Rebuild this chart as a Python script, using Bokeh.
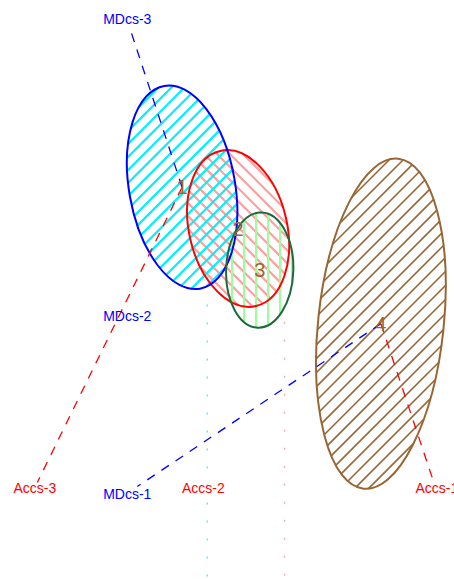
import numpy as np
from bokeh.plotting import figure
from bokeh.models import Range1d
from bokeh.embed import file_html
from bokeh.resources import INLINE
from bokeh.core.properties import value

# Group ellipses in canonical score space
groups = ["1", "2", "3", "4"]
center_x = [-0.96, 0.44, 0.98, 4.01]
center_y = [2.83, 1.80, 0.76, -0.58]
ell_width = [2.65, 2.45, 1.68, 3.14]
ell_height = [5.15, 3.98, 2.88, 8.30]
ell_angle_deg = [10, 13, -2, -6]

# Variable vectors: origin group, tip and label position
var_names = ["MDcs-3", "Accs-3", "MDcs-1", "Accs-1", "MDcs-2", "Accs-2"]
var_origin = [0, 0, 3, 3, None, None]
var_tip_x = [-2.23, -4.58, -2.08, 5.30, None, None]
var_tip_y = [6.70, -4.55, -4.65, -4.45, None, None]
var_label_x = [-2.33, -4.64, -2.33, 5.41, -2.33, -0.43]
var_label_y = [7.05, -4.68, -4.83, -4.68, -0.38, -4.68]

# Vertical dotted guides
guide_x = [-0.33, 1.60]
guide_top = [-0.10, -0.53]

X_RANGE = (-5.5, 5.85)
Y_RANGE = (-6.975, 7.5)

outline_colors = ["#0000FF", "#FF0000", "#1B6B3A", "#996633"]
hatch_colors = ["#00F0FF", "#FF9F9F", "#9CFF9C", "#996633"]
hatch_kinds = ["/", "\\", "|", "/"]
hatch_gap = [0.325, 0.325, 0.30, 0.35]     # offset between lines along x
hatch_phase = [-5.25, 0.0, 0.59, -5.25]
hatch_widths = [2.2, 2.2, 2.2, 1.6]
var_colors = {"MDcs": "#0000FF", "Accs": "#FF0000"}
guide_colors = ["#55EEF5", "#FFAAAA"]


def hatch_lines(i):
    """Hatch segments clipped to ellipse i."""
    cx, cy = center_x[i], center_y[i]
    a, b = ell_width[i] / 2, ell_height[i] / 2
    th = np.radians(ell_angle_deg[i])
    kind = hatch_kinds[i]
    if kind == "/":
        d = np.array([1.0, 1.0]) / np.sqrt(2)
        n = np.array([1.0, -1.0]) / np.sqrt(2)
    elif kind == "\\":
        d = np.array([1.0, -1.0]) / np.sqrt(2)
        n = np.array([1.0, 1.0]) / np.sqrt(2)
    else:
        d = np.array([0.0, 1.0])
        n = np.array([1.0, 0.0])
    scale = 1.0 if kind == "|" else np.sqrt(2)
    step = hatch_gap[i] / scale
    c0 = hatch_phase[i] / scale
    cc = n @ np.array([cx, cy])
    k0 = int(np.floor((cc - b - 1 - c0) / step))
    k1 = int(np.ceil((cc + b + 1 - c0) / step))
    rot = np.array([[np.cos(th), np.sin(th)], [-np.sin(th), np.cos(th)]])
    xs, ys = [], []
    for k in range(k0, k1 + 1):
        c = c0 + k * step
        p0 = rot @ (c * n - np.array([cx, cy]))
        pd = rot @ d
        A = (pd[0] / a) ** 2 + (pd[1] / b) ** 2
        B = 2 * (p0[0] * pd[0] / a ** 2 + p0[1] * pd[1] / b ** 2)
        C = (p0[0] / a) ** 2 + (p0[1] / b) ** 2 - 1
        disc = B * B - 4 * A * C
        if disc <= 0:
            continue
        t1 = (-B - np.sqrt(disc)) / (2 * A)
        t2 = (-B + np.sqrt(disc)) / (2 * A)
        q1 = c * n + t1 * d
        q2 = c * n + t2 * d
        xs.append([q1[0], q2[0]])
        ys.append([q1[1], q2[1]])
    return xs, ys


p = figure(width=454, height=579, output_backend="svg", toolbar_location=None,
           x_range=Range1d(*X_RANGE), y_range=Range1d(*Y_RANGE),
           min_border=0)
p.axis.visible = False
p.grid.visible = False
p.outline_line_color = None
p.background_fill_color = "white"

# dotted guides
for gx, gt, gc in zip(guide_x, guide_top, guide_colors):
    p.line([gx, gx], [gt, Y_RANGE[0]], line_color=gc, line_width=1.5,
           line_dash="2 16")

# hatching first, then outlines on top
order = [1, 0, 2, 3]
for i in order:
    hx, hy = hatch_lines(i)
    p.multi_line(hx, hy, line_color=hatch_colors[i], line_width=hatch_widths[i])
for i in order:
    p.ellipse(x=[center_x[i]], y=[center_y[i]], width=[ell_width[i]],
              height=[ell_height[i]], angle=[np.radians(ell_angle_deg[i])],
              fill_color=None, line_color=outline_colors[i], line_width=2)

# variable vectors
for name, o, tx, ty in zip(var_names, var_origin, var_tip_x, var_tip_y):
    if o is None:
        continue
    col = var_colors[name.split("-")[0]]
    p.line([center_x[o], tx], [center_y[o], ty], line_color=col,
           line_width=1.3, line_dash="9 8")

for name, lx, ly in zip(var_names, var_label_x, var_label_y):
    col = var_colors[name.split("-")[0]]
    p.text(x=[lx], y=[ly], text=[name], text_color=col,
           text_font=value("Liberation Sans"), text_font_size="14px",
           text_align="center", text_baseline="middle")

# group numbers at the centres
p.text(x=center_x, y=center_y, text=groups, text_color="#996633",
       text_font=value("Liberation Sans"), text_font_size="20px",
       text_align="center", text_baseline="middle")

open("out.html", "w").write(file_html(p, INLINE))
